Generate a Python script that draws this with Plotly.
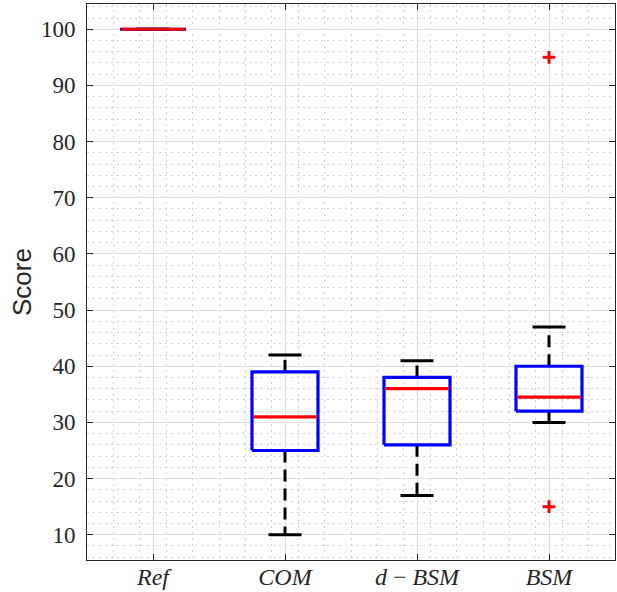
import plotly.graph_objects as go

categories = ["Ref", "COM", "d-BSM", "BSM"]
tick_labels = ["<i>Ref</i>", "<i>COM</i>", "<i>d</i> − <i>BSM</i>", "<i>BSM</i>"]
lower_whisker = [100, 10, 17, 30]
q1 = [100, 25, 26, 32]
median = [100, 31, 36, 34.5]
q3 = [100, 39, 38, 40]
upper_whisker = [100, 42, 41, 47]
outliers = [[], [], [], [95, 15]]

BOX_HALF = 0.25
CAP_HALF = 0.125

fig = go.Figure()
positions = list(range(1, len(categories) + 1))

for i, p in enumerate(positions):
    # whiskers (dashed)
    if upper_whisker[i] > q3[i]:
        fig.add_trace(go.Scatter(x=[p, p], y=[q3[i], upper_whisker[i]], mode="lines",
                                 line=dict(color="black", width=3, dash="12px,7px"),
                                 hoverinfo="skip", showlegend=False))
    if lower_whisker[i] < q1[i]:
        fig.add_trace(go.Scatter(x=[p, p], y=[q1[i], lower_whisker[i]], mode="lines",
                                 line=dict(color="black", width=3, dash="12px,7px"),
                                 hoverinfo="skip", showlegend=False))
    # caps
    for w in (upper_whisker[i], lower_whisker[i]):
        fig.add_trace(go.Scatter(x=[p - CAP_HALF, p + CAP_HALF], y=[w, w], mode="lines",
                                 line=dict(color="black", width=3),
                                 hoverinfo="skip", showlegend=False))
    # box
    fig.add_trace(go.Scatter(
        x=[p - BOX_HALF, p + BOX_HALF, p + BOX_HALF, p - BOX_HALF, p - BOX_HALF],
        y=[q1[i], q1[i], q3[i], q3[i], q1[i]], mode="lines",
        line=dict(color="#0000ff", width=3.2), hoverinfo="skip", showlegend=False))
    # median
    fig.add_trace(go.Scatter(x=[p - BOX_HALF + 0.01, p + BOX_HALF - 0.01], y=[median[i], median[i]],
                             mode="lines", line=dict(color="#ff0000", width=3.2),
                             hoverinfo="skip", showlegend=False))
    # outliers
    if outliers[i]:
        fig.add_trace(go.Scatter(x=[p] * len(outliers[i]), y=outliers[i], mode="markers",
                                 marker=dict(symbol="cross-thin", size=9,
                                             line=dict(color="#ff0000", width=3)),
                                 hoverinfo="skip", showlegend=False))

axis_common = dict(
    showline=True, linecolor="#262626", linewidth=1, mirror="ticks",
    ticks="inside", ticklen=6, tickcolor="#262626",
    showgrid=True, gridcolor="#dedede", gridwidth=1, zeroline=False,
    automargin=False,
)

fig.update_xaxes(
    range=[0.5, 4.5], tickmode="array", tickvals=positions, ticktext=tick_labels,
    tickfont=dict(family="Liberation Serif", size=24, color="#262626"),
    ticklabelstandoff=-5,
    minor=dict(tickmode="linear", tick0=0.5, dtick=0.2, showgrid=True,
               griddash="2px,4px", gridcolor="#d0d0d0", gridwidth=1, ticks=""),
    **axis_common,
)
fig.update_yaxes(
    range=[5.5, 104.5], tick0=0, dtick=10,
    tickfont=dict(family="Liberation Serif", size=23, color="#262626"),
    ticklabelstandoff=6,
    minor=dict(tick0=0, dtick=2, showgrid=True, griddash="2px,4px",
               gridcolor="#d0d0d0", gridwidth=1, ticks=""),
    **axis_common,
)

fig.add_annotation(text="Score", xref="paper", yref="paper", x=0, y=0.5,
                   xshift=-65, textangle=-90, showarrow=False,
                   font=dict(family="Liberation Sans", size=26, color="#262626"),
                   xanchor="center", yanchor="middle")

fig.update_layout(
    width=617, height=592,
    margin=dict(l=87, r=2, t=4, b=32),
    paper_bgcolor="white", plot_bgcolor="white",
    showlegend=False,
)

fig.write_html("out.html", config={"displayModeBar": False},
               post_script="document.body.style.margin='0';")
